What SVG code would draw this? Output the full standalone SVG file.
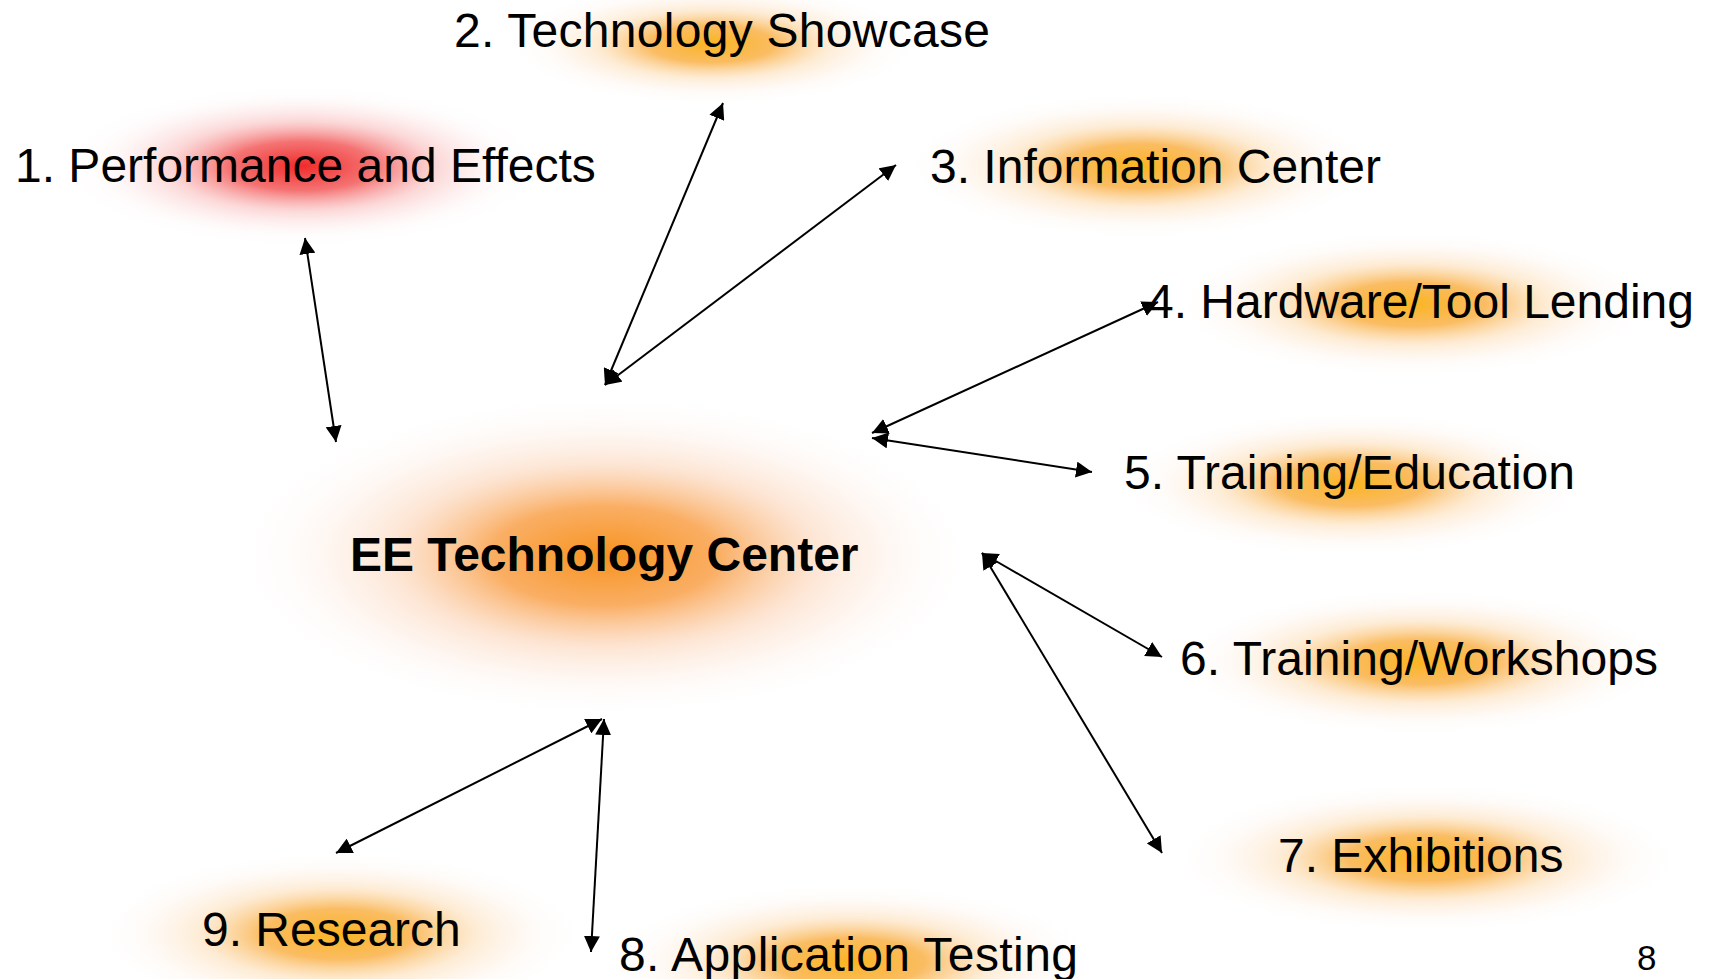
<svg xmlns="http://www.w3.org/2000/svg" width="1716" height="979" viewBox="0 0 1716 979">
<style>
.lbl{font-family:"Liberation Sans",Arial,sans-serif;font-size:48px;fill:#000}
.ctr{font-family:"Liberation Sans",Arial,sans-serif;font-size:48px;font-weight:bold;fill:#000}
.pg{font-family:"Liberation Sans",Arial,sans-serif;font-size:35px;fill:#000}
.arr{stroke:#000;stroke-width:2;fill:none;marker-start:url(#ah);marker-end:url(#ah)}
</style>
<defs>
<marker id="ah" markerUnits="userSpaceOnUse" markerWidth="18" markerHeight="16" refX="16" refY="8" orient="auto-start-reverse" viewBox="0 0 18 16">
<path d="M0,0 L16,8 L0,16 Z" fill="#000"/>
</marker>
<radialGradient id="gOr" cx="0.5" cy="0.5" r="0.5">
<stop offset="0" stop-color="#fbb520" stop-opacity="1"/>
<stop offset="0.3" stop-color="#f9ac3c" stop-opacity="0.8"/>
<stop offset="0.55" stop-color="#fcd4a0" stop-opacity="0.45"/>
<stop offset="0.8" stop-color="#fdf0e6" stop-opacity="0.25"/>
<stop offset="1" stop-color="#ffffff" stop-opacity="0"/>
</radialGradient>
<radialGradient id="gRed" cx="0.5" cy="0.5" r="0.5">
<stop offset="0" stop-color="#f02a2a" stop-opacity="1"/>
<stop offset="0.3" stop-color="#f25050" stop-opacity="0.8"/>
<stop offset="0.55" stop-color="#f8a8a8" stop-opacity="0.45"/>
<stop offset="0.8" stop-color="#fdeaea" stop-opacity="0.25"/>
<stop offset="1" stop-color="#ffffff" stop-opacity="0"/>
</radialGradient>
<radialGradient id="gCtr" cx="0.5" cy="0.5" r="0.5">
<stop offset="0" stop-color="#f7921e" stop-opacity="1"/>
<stop offset="0.3" stop-color="#f9a048" stop-opacity="0.85"/>
<stop offset="0.55" stop-color="#fbcaa6" stop-opacity="0.5"/>
<stop offset="0.8" stop-color="#fdeee6" stop-opacity="0.28"/>
<stop offset="1" stop-color="#ffffff" stop-opacity="0"/>
</radialGradient>
</defs>
<rect x="0" y="0" width="1716" height="979" fill="#ffffff"/>

<g id="center">
<ellipse cx="605" cy="556" rx="380" ry="165" fill="url(#gCtr)"/>
<text class="ctr" x="350" y="571">EE Technology Center</text>
</g>
<g id="n1">
<ellipse cx="302" cy="166" rx="245" ry="82" fill="url(#gRed)"/>
<text class="lbl" x="15" y="182">1. Performance and Effects</text>
</g>
<g id="n2">
<ellipse cx="712" cy="44" rx="210" ry="62" fill="url(#gOr)"/>
<text class="lbl" x="454" y="47" textLength="536">2. Technology Showcase</text>
</g>
<g id="n3">
<ellipse cx="1140" cy="166" rx="240" ry="74" fill="url(#gOr)"/>
<text class="lbl" x="930" y="183">3. Information Center</text>
</g>
<g id="n4">
<ellipse cx="1412" cy="304" rx="245" ry="74" fill="url(#gOr)"/>
<text class="lbl" x="1147" y="318">4. Hardware/Tool Lending</text>
</g>
<g id="n5">
<ellipse cx="1352" cy="484" rx="240" ry="74" fill="url(#gOr)"/>
<text class="lbl" x="1124" y="489">5. Training/Education</text>
</g>
<g id="n6">
<ellipse cx="1420" cy="662" rx="250" ry="74" fill="url(#gOr)"/>
<text class="lbl" x="1180" y="675" textLength="478">6. Training/Workshops</text>
</g>
<g id="n7">
<ellipse cx="1425" cy="858" rx="260" ry="76" fill="url(#gOr)"/>
<text class="lbl" x="1278" y="872">7. Exhibitions</text>
</g>
<g id="n8">
<ellipse cx="850" cy="962" rx="250" ry="80" fill="url(#gOr)"/>
<text class="lbl" x="619" y="971" textLength="459">8. Application Testing</text>
</g>
<g id="n9">
<ellipse cx="338" cy="934" rx="250" ry="84" fill="url(#gOr)"/>
<text class="lbl" x="202" y="946">9. Research</text>
</g>

<g id="connectors">
<line class="arr" x1="305" y1="238" x2="336" y2="442"/>
<line class="arr" x1="605" y1="385" x2="723" y2="103"/>
<line class="arr" x1="605" y1="385" x2="896" y2="165"/>
<line class="arr" x1="872" y1="433" x2="1158" y2="302"/>
<line class="arr" x1="872" y1="438" x2="1092" y2="472"/>
<line class="arr" x1="982" y1="553" x2="1162" y2="657"/>
<line class="arr" x1="982" y1="553" x2="1162" y2="853"/>
<line class="arr" x1="602" y1="719" x2="336" y2="853"/>
<line class="arr" x1="604" y1="719" x2="591" y2="952"/>
</g>

<text class="pg" x="1637" y="970">8</text>
</svg>
